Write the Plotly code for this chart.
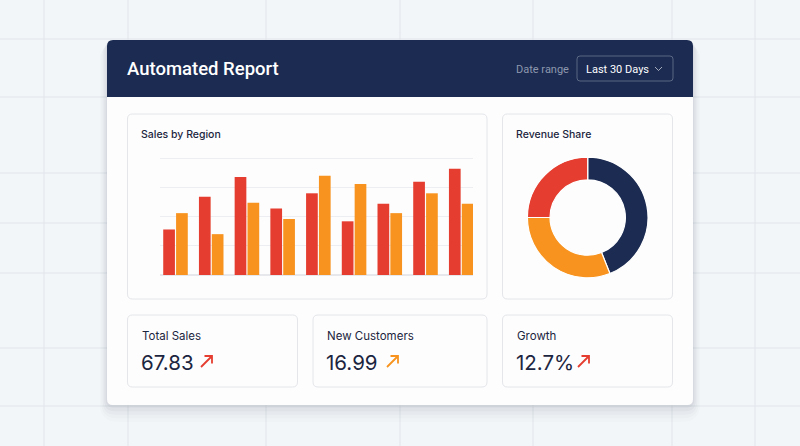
import plotly.graph_objects as go

W, H = 800, 446

# ---------------- data ----------------
regions = ["R1", "R2", "R3", "R4", "R5", "R6", "R7", "R8", "R9"]
sales_a = [39, 67, 84, 57, 70, 46, 61, 80, 91]
sales_b = [53, 35, 62, 48, 85, 78, 53, 70, 61]
y_ticks = [0, 25, 50, 75, 100]

share_labels = ["Segment A", "Segment B", "Segment C"]
share_values = [44, 31, 25]

kpi_labels = ["Total Sales", "New Customers", "Growth"]
kpi_values = ["67.83", "16.99", "12.7%"]

# ---------------- styles ----------------
NAVY = "#1b2b52"
RED = "#e53d2f"
ORANGE = "#f7931e"
TEXT = "#1c2540"
BG = "#f3f6f9"


def X(px):
    return px / W


def Y(py):
    return 1 - py / H


def rr_path(x0, y0, x1, y1, r, top=True, bottom=True):
    rt = r if top else 0
    rb = r if bottom else 0
    pts = []
    pts.append(f"M {X(x0 + rt)} {Y(y0)}")
    pts.append(f"L {X(x1 - rt)} {Y(y0)}")
    if rt:
        pts.append(f"Q {X(x1)} {Y(y0)} {X(x1)} {Y(y0 + rt)}")
    pts.append(f"L {X(x1)} {Y(y1 - rb)}")
    if rb:
        pts.append(f"Q {X(x1)} {Y(y1)} {X(x1 - rb)} {Y(y1)}")
    pts.append(f"L {X(x0 + rb)} {Y(y1)}")
    if rb:
        pts.append(f"Q {X(x0)} {Y(y1)} {X(x0)} {Y(y1 - rb)}")
    pts.append(f"L {X(x0)} {Y(y0 + rt)}")
    if rt:
        pts.append(f"Q {X(x0)} {Y(y0)} {X(x0 + rt)} {Y(y0)}")
    pts.append("Z")
    return " ".join(pts)


shapes = []

# background grid
for gx in [44, 128, 266, 400, 533, 672, 755]:
    shapes.append(dict(type="line", xref="paper", yref="paper", x0=X(gx), x1=X(gx), y0=0, y1=1,
                       line=dict(color="#e1e6eb", width=1), layer="below"))
for gy in [39, 97, 173, 223, 273, 348, 406]:
    shapes.append(dict(type="line", xref="paper", yref="paper", x0=0, x1=1, y0=Y(gy), y1=Y(gy),
                       line=dict(color="#e1e6eb", width=1), layer="below"))

# card shadow
for i, a in enumerate([0.035, 0.03, 0.025, 0.02, 0.015]):
    d = 2 + i * 2.5
    shapes.append(dict(type="path", xref="paper", yref="paper",
                       path=rr_path(107 - d * 0.6, 40 + d * 0.3, 693 + d * 0.6, 405 + d * 1.4, 6 + d),
                       fillcolor=f"rgba(30,40,70,{a})", line=dict(width=0), layer="below"))

# card
shapes.append(dict(type="path", xref="paper", yref="paper", path=rr_path(107, 40, 693, 405, 6),
                   fillcolor="#fdfdfd", line=dict(width=0), layer="below"))
# header
shapes.append(dict(type="path", xref="paper", yref="paper", path=rr_path(107, 40, 693, 97, 6, bottom=False),
                   fillcolor=NAVY, line=dict(width=0), layer="below"))
# dropdown
shapes.append(dict(type="path", xref="paper", yref="paper", path=rr_path(577, 56, 673, 81, 3),
                   fillcolor=NAVY, line=dict(color="rgba(255,255,255,0.28)", width=1), layer="below"))
shapes.append(dict(type="path", xref="paper", yref="paper",
                   path=f"M {X(655)} {Y(67)} L {X(658.5)} {Y(70.5)} L {X(662)} {Y(67)}",
                   line=dict(color="rgba(255,255,255,0.6)", width=1), layer="above"))

# panels
panels = [(127.5, 114, 487, 299), (502.5, 114, 672.5, 299),
          (127.5, 315, 297.5, 387), (313, 315, 487, 387), (502.5, 315, 672.5, 387)]
for (x0, y0, x1, y1) in panels:
    shapes.append(dict(type="path", xref="paper", yref="paper", path=rr_path(x0, y0, x1, y1, 5),
                       fillcolor="#fdfdfd", line=dict(color="#e4e6ea", width=1), layer="below"))

# KPI arrows
arrow_x = [201, 387, 578]
arrow_col = [RED, ORANGE, RED]
for ax, col in zip(arrow_x, arrow_col):
    shapes.append(dict(type="path", xref="paper", yref="paper",
                       path=(f"M {X(ax)} {Y(367)} L {X(ax + 11)} {Y(356)} "
                             f"M {X(ax + 3.5)} {Y(356)} L {X(ax + 11)} {Y(356)} L {X(ax + 11)} {Y(363.5)}"),
                       line=dict(color=col, width=1.8), layer="above"))

annotations = []


def txt(s, x, y, size, color, family="Inter", weight=400, xanchor="left"):
    annotations.append(dict(text=s, x=X(x), y=Y(y), xref="paper", yref="paper", showarrow=False,
                            xanchor=xanchor, yanchor="middle",
                            font=dict(size=size, color=color, family=family, weight=weight)))


txt("Automated Report", 125, 69, 18.5, "#ffffff", family="Roboto", weight=500)
txt("Date range", 514, 69, 11, "#8d97ad", family="Roboto")
txt("Last 30 Days", 584, 69, 11, "#ffffff", family="Roboto")
txt("Sales by Region", 138.5, 134, 10.5, TEXT, weight=500)
txt("Revenue Share", 514, 134, 10.5, TEXT, weight=500)

kpi_x = [139.5, 325, 514.5]
for lab, val, kx in zip(kpi_labels, kpi_values, kpi_x):
    txt(lab, kx, 336, 11.5, TEXT)
    txt(val, kx - 1, 362, 20.5, TEXT)

# ---------------- traces ----------------
fig = go.Figure()
fig.add_trace(go.Bar(x=regions, y=sales_a, marker=dict(color=RED, line=dict(width=0)),
                     name="A", xaxis="x", yaxis="y"))
fig.add_trace(go.Bar(x=regions, y=sales_b, marker=dict(color=ORANGE, line=dict(width=0)),
                     name="B", xaxis="x", yaxis="y"))

pie_cx, pie_cy, pie_r = 587.7, 217.5, 60.3
fig.add_trace(go.Pie(labels=share_labels, values=share_values, hole=0.625, sort=False,
                     direction="clockwise", rotation=0,
                     marker=dict(colors=[NAVY, ORANGE, RED], line=dict(color="#ffffff", width=1.2)),
                     textinfo="none", hoverinfo="label+percent",
                     domain=dict(x=[X(pie_cx - pie_r), X(pie_cx + pie_r)],
                                 y=[Y(pie_cy + pie_r), Y(pie_cy - pie_r)])))

fig.update_layout(
    width=W, height=H, margin=dict(l=0, r=0, t=0, b=0),
    paper_bgcolor=BG, plot_bgcolor="rgba(0,0,0,0)",
    showlegend=False, barmode="group", bargap=0.28, bargroupgap=0.09,
    xaxis=dict(domain=[X(160), X(473)], range=[-0.434, 8.33], showticklabels=False,
               showgrid=False, zeroline=False, showline=False, fixedrange=True),
    yaxis=dict(domain=[Y(275), Y(157)], range=[0, 101.1], tickvals=y_ticks, showticklabels=False,
               showgrid=True, gridcolor="#eceef1", gridwidth=1, zeroline=True, zerolinecolor="#e6e8eb",
               showline=False, fixedrange=True),
    shapes=shapes, annotations=annotations,
)

fig.write_html("out.html")
